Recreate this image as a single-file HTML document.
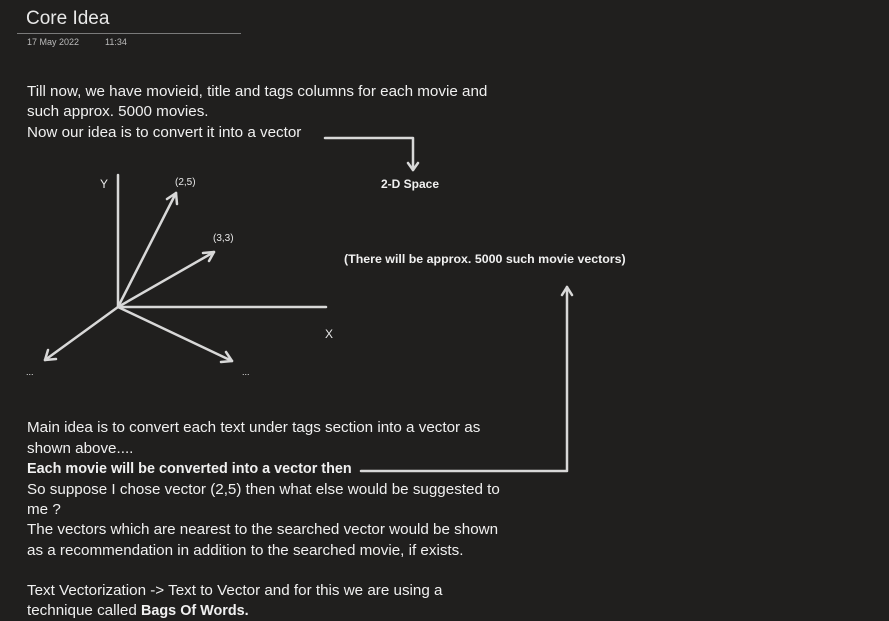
<!DOCTYPE html>
<html><head><style>
body{margin:0;width:889px;height:621px;background:#201f1e;overflow:hidden;font-family:"Liberation Sans",sans-serif;color:#f0f0f0}
.t{position:absolute;left:27px;font-size:15.2px;white-space:nowrap}
</style></head><body>
<div style="position:absolute;left:26px;top:8px;font-size:19px;color:#e8e8e8">Core Idea</div>
<div style="position:absolute;left:17px;top:33px;width:224px;height:1px;background:#7a7a7a"></div>
<div style="position:absolute;left:27px;top:37px;font-size:9px;color:#bbb">17 May 2022</div>
<div style="position:absolute;left:105px;top:37px;font-size:9px;color:#bbb">11:34</div>
<div class="t" style="top:83px">Till now, we have movieid, title and tags columns for each movie and</div>
<div class="t" style="top:103px">such approx. 5000 movies.</div>
<div class="t" style="top:124px">Now our idea is to convert it into a vector</div>
<div class="t" style="top:419px">Main idea is to convert each text under tags section into a vector as</div>
<div class="t" style="top:440px">shown above....</div>
<div class="t" style="top:461px;font-weight:bold;font-size:14.4px">Each movie will be converted into a vector then</div>
<div class="t" style="top:481px">So suppose I chose vector (2,5) then what else would be suggested to</div>
<div class="t" style="top:501px">me ?</div>
<div class="t" style="top:521px">The vectors which are nearest to the searched vector would be shown</div>
<div class="t" style="top:542px">as a recommendation in addition to the searched movie, if exists.</div>
<div class="t" style="top:582px">Text Vectorization -&gt; Text to Vector and for this we are using a</div>
<div class="t" style="top:602px">technique called <b style="font-size:14.4px">Bags Of Words.</b></div>
<div style="position:absolute;left:381px;top:177px;font-size:12px;font-weight:bold">2-D Space</div>
<div style="position:absolute;left:344px;top:252px;font-size:12.4px;font-weight:bold">(There will be approx. 5000 such movie vectors)</div>
<svg width="889" height="621" style="position:absolute;left:0;top:0" fill="none" stroke="#d8d8d8" stroke-width="2.5" stroke-linecap="round" stroke-linejoin="round">
<line x1="118" y1="175" x2="118" y2="307"/>
<line x1="118" y1="307" x2="326" y2="307"/>
<line x1="118" y1="307" x2="176" y2="193"/><polyline points="167,199 176,193 177,204"/>
<line x1="118" y1="307" x2="214" y2="252"/><polyline points="203,253 214,252 209,261"/>
<line x1="118" y1="307" x2="45" y2="360"/><polyline points="48,350 45,360 56,359"/>
<line x1="118" y1="307" x2="232" y2="361"/><polyline points="221,362 232,361 226,352"/>
<polyline points="325,138 413,138 413,170"/><polyline points="408,163 413,170 418,163"/>
<polyline points="361,471 567,471 567,287"/><polyline points="562,295 567,287 572,295"/>
<g fill="#e8e8e8" stroke="none" font-family="Liberation Sans,sans-serif">
<text x="100" y="188" font-size="12">Y</text>
<text x="175" y="185" font-size="10">(2,5)</text>
<text x="213" y="241" font-size="10">(3,3)</text>
<text x="325" y="338" font-size="12">X</text>
<text x="26" y="375" font-size="9">...</text>
<text x="242" y="375" font-size="9">...</text>
</g>
</svg>
</body></html>
